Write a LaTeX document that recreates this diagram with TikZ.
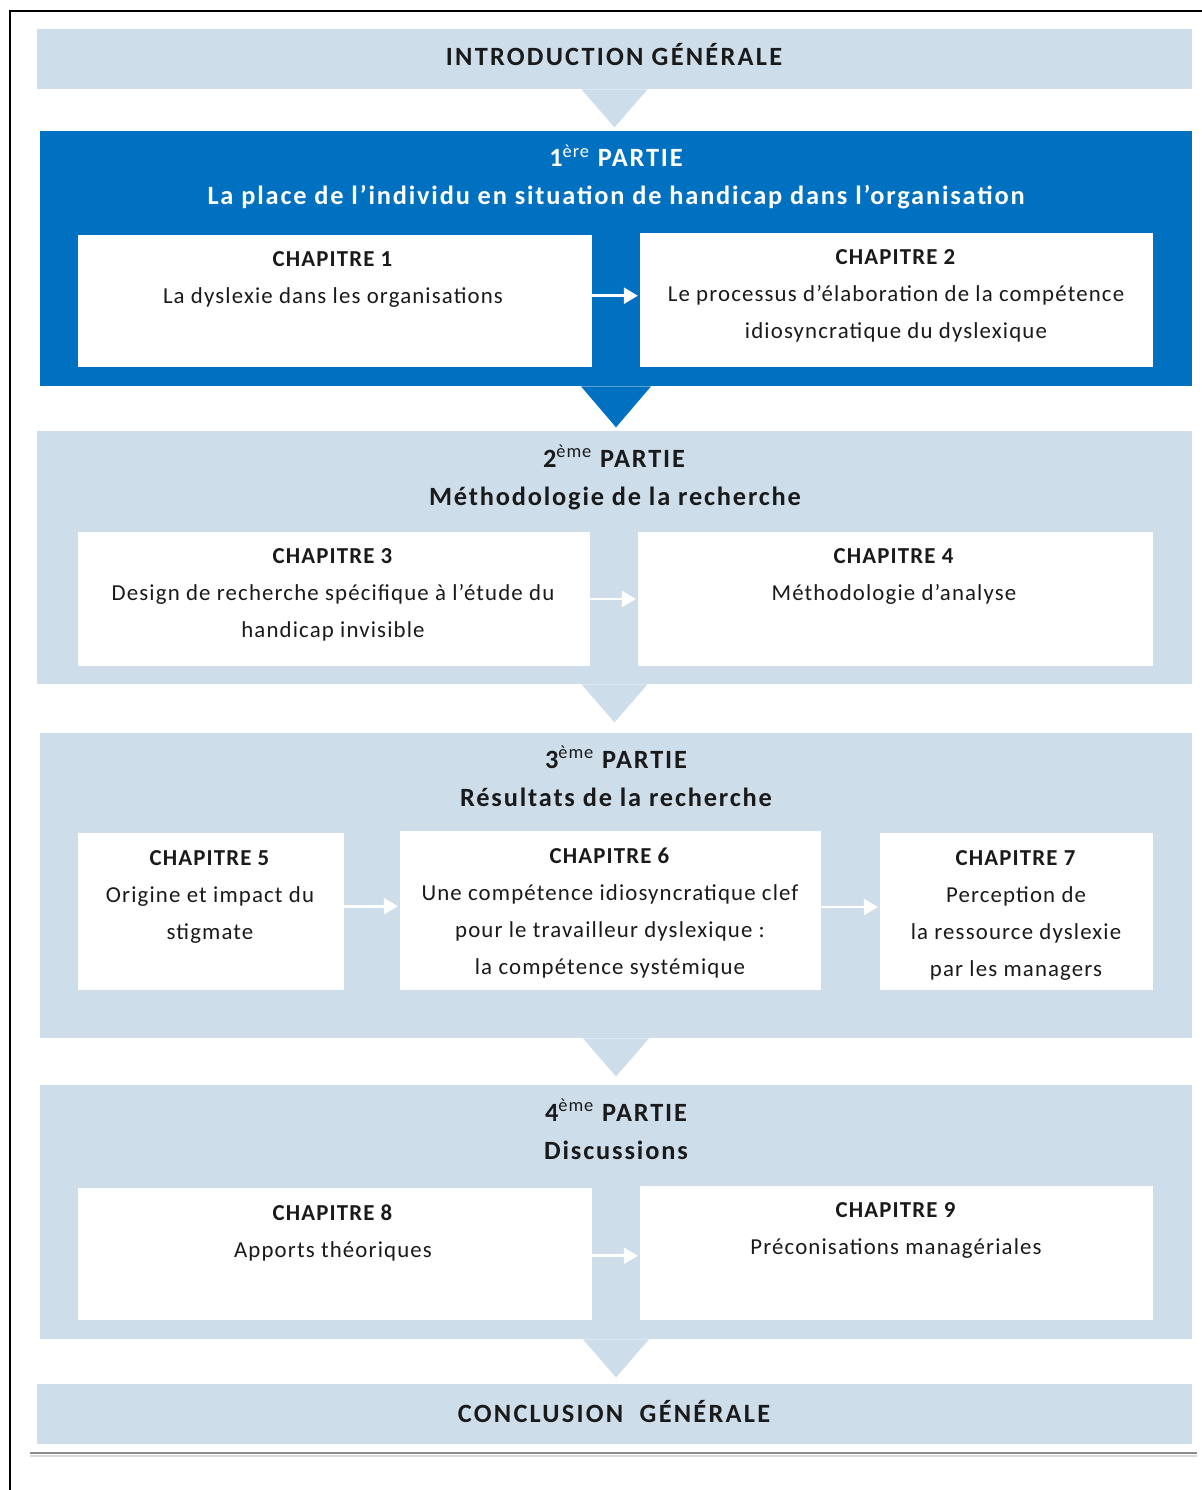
\documentclass[tikz,border=0pt]{standalone}
\usepackage{fontspec}
\setmainfont{Carlito}[LetterSpace=5]
\usetikzlibrary{arrows.meta,calc,fit}
\definecolor{lightband}{HTML}{CDDDE9}
\definecolor{darkband}{HTML}{0070C0}
\definecolor{txt}{HTML}{1A1A1A}
\begin{document}
\begin{tikzpicture}[x=0.02cm,y=-0.02cm,
  band/.style={fill=lightband,draw=none,inner sep=0pt},
  darkpart/.style={fill=darkband,draw=none,inner sep=0pt},
  chapbox/.style={fill=white,draw=none,inner sep=0pt},
  bigtitle/.style={anchor=base,inner sep=0pt,text=txt,font=\fontsize{15}{18}\selectfont\bfseries\addfontfeature{LetterSpace=7}},
  captitle/.style={bigtitle,font=\fontsize{15}{18}\selectfont\bfseries\addfontfeature{LetterSpace=8.5}},
  whitetitle/.style={bigtitle,text=white},
  chaptext/.style={anchor=north,align=center,inner sep=0pt,text=txt,font=\fontsize{13}{21}\selectfont},
  warrow/.style={draw=white,line width=1.7pt,-{Triangle[length=8pt,width=9pt]},shorten >=1pt},
  chevron/.style={fill=lightband,draw=none}
]
\useasboundingbox (0,0) rectangle (1202,1490);
\fill[white] (0,0) rectangle (1202,1490);

% frame
\draw[line width=1pt,black] (10,1490) -- (10,11) -- (1202,11);
\draw[line width=1.2pt,black!45] (30,1453) -- (1197,1453);
\draw[line width=0.8pt,black!15] (30,1456) -- (1197,1456);

% bands
\node[band,fit={(37,29) (1192,89)}] (intro) {};
\node[darkpart,fit={(40,131) (1192,386)}] (p1) {};
\node[band,fit={(37,431) (1192,684)}] (p2) {};
\node[band,fit={(40,733) (1192,1038)}] (p3) {};
\node[band,fit={(40,1085) (1192,1339)}] (p4) {};
\node[band,fit={(37,1384) (1192,1444)}] (concl) {};

% chevrons
\fill[chevron] ($(intro.south)+(-33,0)$) -- ($(intro.south)+(33,0)$) -- ($(intro.south)+(0,38)$) -- cycle;
\fill[darkband] ($(p1.south)+(-35,0)$) -- ($(p1.south)+(35,0)$) -- ($(p1.south)+(0,41)$) -- cycle;
\fill[chevron] ($(p2.south)+(-33,0)$) -- ($(p2.south)+(33,0)$) -- ($(p2.south)+(0,38)$) -- cycle;
\fill[chevron] ($(p3.south)+(-33,0)$) -- ($(p3.south)+(33,0)$) -- ($(p3.south)+(0,38)$) -- cycle;
\fill[chevron] ($(p4.south)+(-33,0)$) -- ($(p4.south)+(33,0)$) -- ($(p4.south)+(0,38)$) -- cycle;

% titles
\node[captitle] (tintro) at (614,66) {INTRODUCTION GÉNÉRALE};
\node[whitetitle] (t1) at (616,167) {1\textsuperscript{\normalfont ère} PARTIE};
\node[whitetitle] (s1) at (616,205) {La place de l’individu en situation de handicap dans l’organisation};
\node[bigtitle] (t2) at (614,467) {2\textsuperscript{\normalfont ème} PARTIE};
\node[bigtitle] (s2) at (615,505) {Méthodologie de la recherche};
\node[bigtitle] (t3) at (616,768) {3\textsuperscript{\normalfont ème} PARTIE};
\node[bigtitle] (s3) at (616,806) {Résultats de la recherche};
\node[bigtitle] (t4) at (616,1121) {4\textsuperscript{\normalfont ème} PARTIE};
\node[bigtitle] (s4) at (616,1159) {Discussions};
\node[captitle] (tconcl) at (614,1422) {CONCLUSION~~GÉNÉRALE};

% chapter boxes
\node[chapbox,fit={(78,235) (592,367)}] (c1) {};
\node[chapbox,fit={(640,233) (1153,367)}] (c2) {};
\node[chapbox,fit={(78,532) (590,666)}] (c3) {};
\node[chapbox,fit={(638,532) (1153,666)}] (c4) {};
\node[chapbox,fit={(78,833) (344,990)}] (c5) {};
\node[chapbox,fit={(400,831) (821,990)}] (c6) {};
\node[chapbox,fit={(880,833) (1153,990)}] (c7) {};
\node[chapbox,fit={(78,1188) (592,1320)}] (c8) {};
\node[chapbox,fit={(640,1186) (1153,1320)}] (c9) {};

% chapter texts
\node[chaptext] (x1) at (333,251) {\textbf{CHAPITRE 1}\\La dyslexie dans les organisations};
\node[chaptext] (x2) at (896,249) {\textbf{CHAPITRE 2}\\Le processus d’élaboration de la compétence\\idiosyncratique du dyslexique};
\node[chaptext] (x3) at (333,548) {\textbf{CHAPITRE 3}\\Design de recherche spécifique à l’étude du\\handicap invisible};
\node[chaptext] (x4) at (894,548) {\textbf{CHAPITRE 4}\\Méthodologie d’analyse};
\node[chaptext] (x5) at (210,850) {\textbf{CHAPITRE 5}\\Origine et impact du\\stigmate};
\node[chaptext] (x6) at (610,848) {\textbf{CHAPITRE 6}\\Une compétence idiosyncratique clef\\pour le travailleur dyslexique :\\la compétence systémique};
\node[chaptext] (x7) at (1016,850) {\textbf{CHAPITRE 7}\\Perception de\\la ressource dyslexie\\par les managers};
\node[chaptext] (x8) at (333,1204) {\textbf{CHAPITRE 8}\\Apports théoriques};
\node[chaptext] (x9) at (896,1202) {\textbf{CHAPITRE 9}\\Préconisations managériales};

% connectors
\draw[warrow] ([yshift=3]c1.east) -- ([yshift=3]c1.east -| c2.west);
\draw[warrow] (c3.east) -- (c3.east -| c4.west);
\draw[warrow] ([yshift=3]c5.east) -- ([yshift=3]c5.east -| c6.west);
\draw[warrow] ([yshift=2]c6.east) -- ([yshift=2]c6.east -| c7.west);
\draw[warrow] ([yshift=-1]c8.east) -- ([yshift=-1]c8.east -| c9.west);
\end{tikzpicture}
\end{document}
